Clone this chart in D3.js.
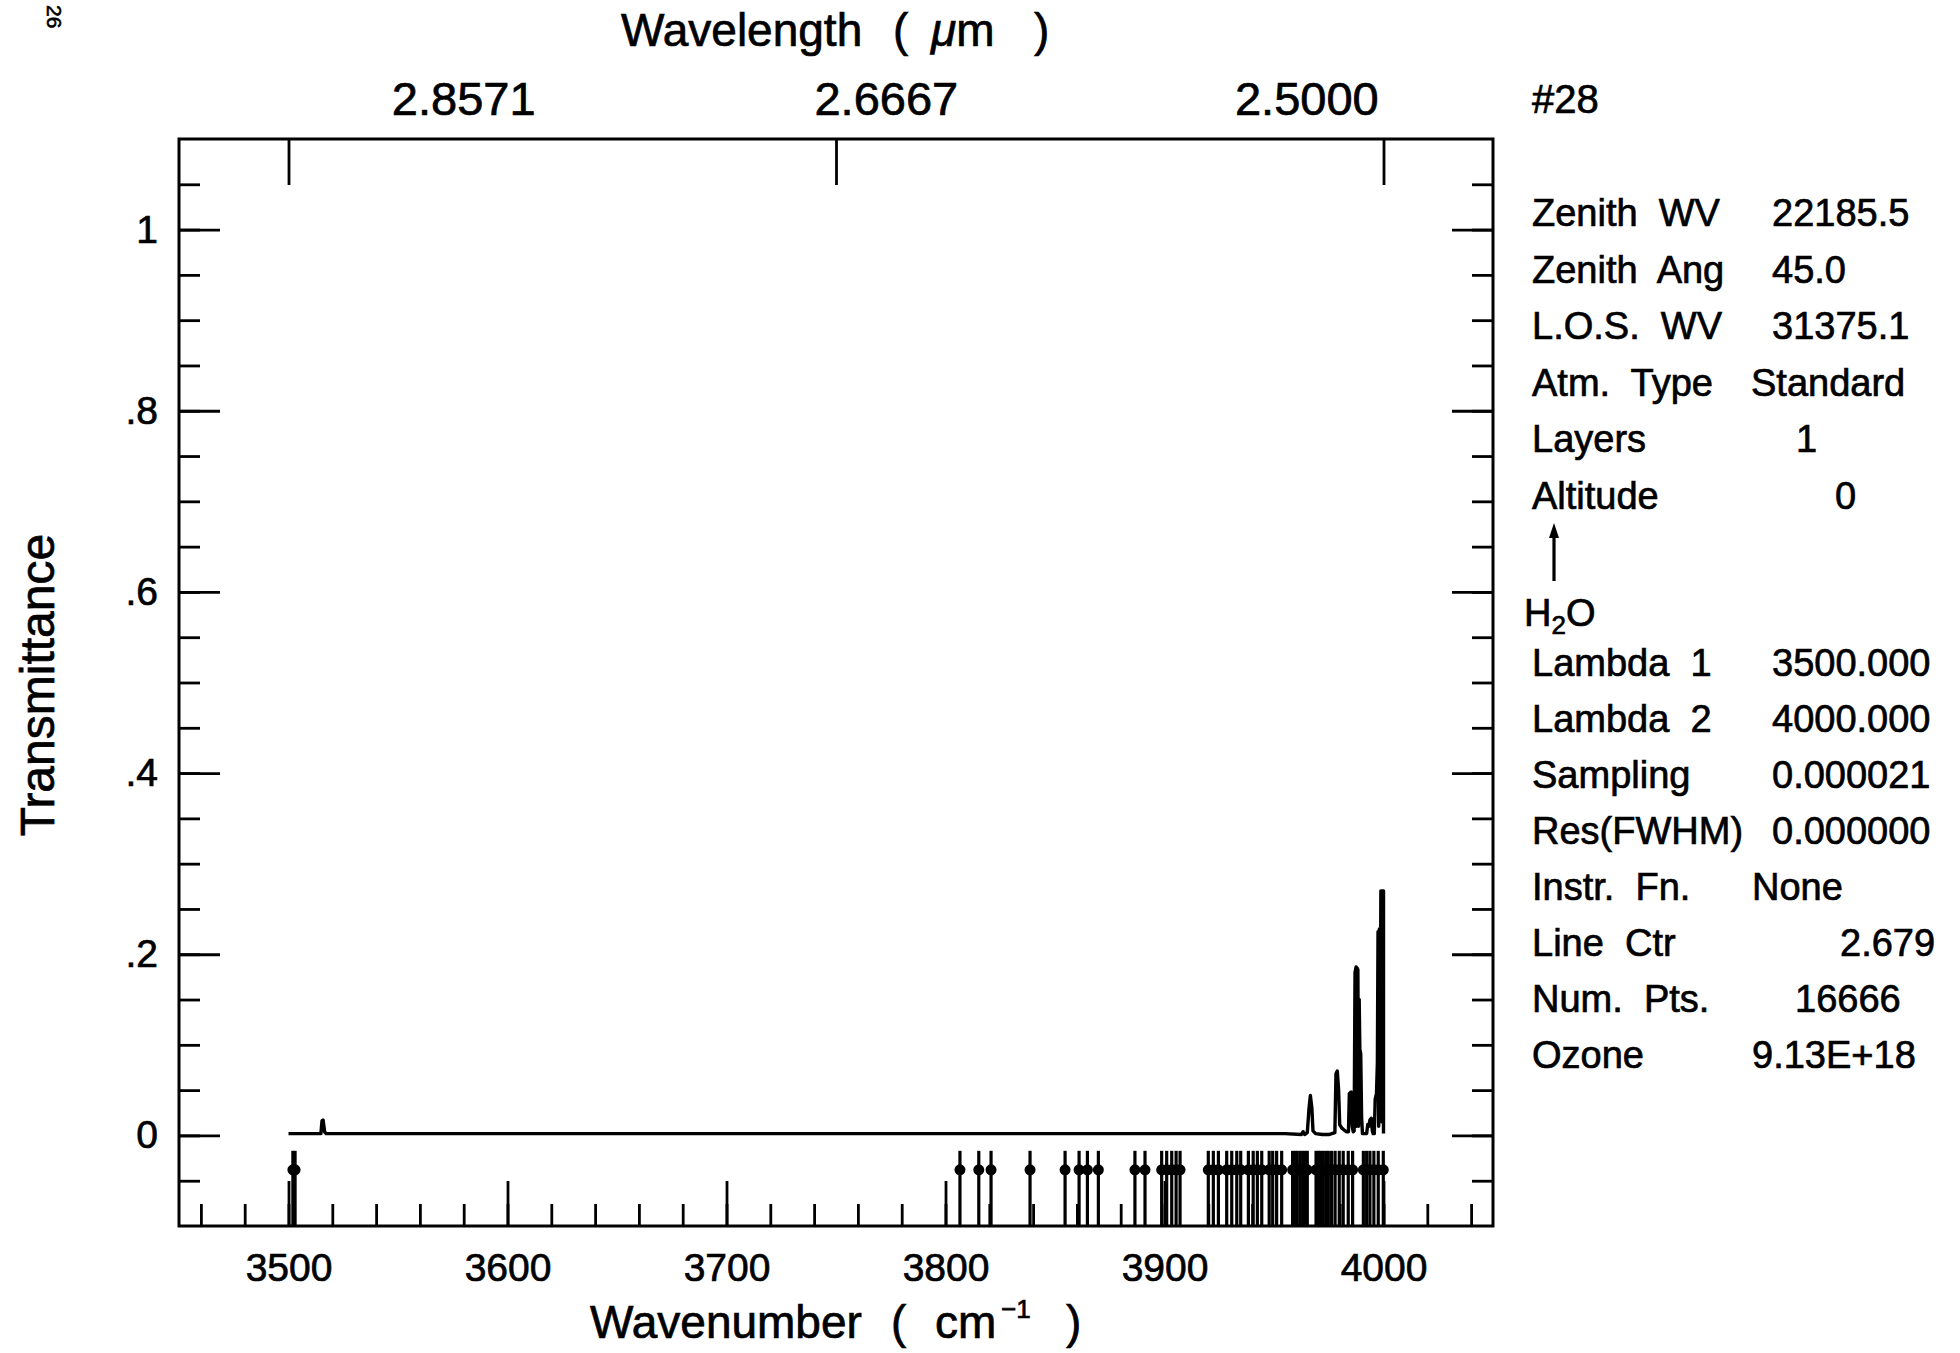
<!DOCTYPE html>
<html><head><meta charset="utf-8">
<script src="https://cdn.jsdelivr.net/npm/d3@7"></script>
<style>
html,body{margin:0;padding:0;background:#fff;}
svg{display:block;background:#fff;}
text{font-family:"Liberation Sans",Arial,sans-serif;fill:#000;}
</style></head><body>
<svg id="chart" width="1960" height="1353"></svg>
<script>
// ---------- data ----------
const wavenumber = [
  3500, 3514.8, 3515.3, 3515.8, 3516.5, 3517.2, 3600, 3700, 3800, 3900, 3955,
  3962.5, 3963.3, 3964.0, 3965.2, 3966.0, 3966.6, 3967.3, 3967.8, 3969, 3972, 3975,
  3977.8, 3978.3, 3978.9, 3979.5, 3980.0, 3981.0, 3982.0, 3983.0,
  3984.0, 3984.4, 3985.2, 3985.7, 3986.2,
  3986.6, 3987.0, 3987.5, 3987.7, 3987.9, 3988.3, 3988.6, 3988.9, 3989.2, 3989.6, 3990.0, 3990.4,
  3991.5, 3992.3, 3992.8, 3993.3, 3993.8, 3994.4, 3994.9, 3995.3, 3995.8,
  3996.2, 3996.8, 3997.2, 3997.5, 3997.8, 3998.1, 3998.4, 3998.8, 3999.1, 3999.4, 3999.7, 4000, 4000
];
const transmittance = [
  0.002, 0.002, 0.016, 0.017, 0.004, 0.002, 0.002, 0.002, 0.002, 0.002, 0.002,
  0.001, 0.004, 0.001, 0.003, 0.030, 0.044, 0.030, 0.005, 0.002, 0.001, 0.001,
  0.003, 0.068, 0.071, 0.050, 0.012, 0.008, 0.006, 0.004,
  0.004, 0.046, 0.048, 0.010, 0.004,
  0.005, 0.180, 0.186, 0.010, 0.185, 0.183, 0.010, 0.150, 0.095, 0.090, 0.020, 0.002,
  0.002, 0.002, 0.012, 0.010, 0.017, 0.019, 0.005, 0.002, 0.002,
  0.040, 0.046, 0.080, 0.225, 0.010, 0.228, 0.020, 0.270, 0.015, 0.270, 0.020, 0.270, 0.002
];
// H2O line positions marked under the spectrum (cm^-1)
const h2oLines = [
  3502.0, 3503.0, 3806.6, 3815.2, 3820.8, 3838.6, 3854.6, 3861.0, 3864.8, 3869.8,
  3886.5, 3891.1, 3898.7, 3901.0, 3903.3, 3905.3, 3907.1,
  3920.0, 3922.3, 3924.6, 3928.4, 3930.7, 3933.0, 3934.8,
  3938.3, 3940.5, 3942.4, 3944.4, 3947.8, 3949.4, 3951.2, 3953.5,
  3958.5, 3959.6, 3960.6, 3961.9, 3963.1, 3964.2, 3965.2,
  3969.2, 3970.2, 3971.3, 3972.5, 3973.7, 3974.8, 3976.3, 3977.9,
  3979.8, 3981.6, 3983.9, 3985.9,
  3990.8, 3992.3, 3993.8, 3995.6, 3997.6, 3999.9
];
const xMajorTicks = [3500, 3600, 3700, 3800, 3900, 4000];
const xMajorLabels = ["3500", "3600", "3700", "3800", "3900", "4000"];
const yMajorTicks = [0, 0.2, 0.4, 0.6, 0.8, 1.0];
const yMajorLabels = ["0", ".2", ".4", ".6", ".8", "1"];
const wavelengthTicks = [3500, 3750, 4000];
const wavelengthLabels = ["2.8571", "2.6667", "2.5000"];
const infoLabels = ["Zenith  WV", "Zenith  Ang", "L.O.S.  WV", "Atm.  Type", "Layers", "Altitude"];
const infoValues = ["22185.5", "45.0", "31375.1", "Standard", "1", "0"];
const runLabels = ["Lambda  1", "Lambda  2", "Sampling", "Res(FWHM)", "Instr.  Fn.", "Line  Ctr", "Num.  Pts.", "Ozone"];
const runValues = ["3500.000", "4000.000", "0.000021", "0.000000", "None", "2.679", "16666", "9.13E+18"];

// ---------- layout ----------
const FONT = '"Liberation Sans", Arial, sans-serif';
const TXT_STROKE = 0.7;
const wavelengthLabelAt = [3580, 3773, 3965];        // label anchors (cm^-1)
const infoValueX = [1772, 1772, 1772, 1751, 1796, 1835];
const runValueX = [1772, 1772, 1772, 1772, 1752, 1840, 1795, 1752];

const svg = d3.select("#chart");
const x = d3.scaleLinear().domain([3450, 4050]).range([179, 1493]);
const y = d3.scaleLinear().domain([-0.1, 1.1]).range([1226, 139]);

function styleAxis(g, size) {
  g.select(".domain").remove();
  g.selectAll(".tick line").attr("stroke", "#000").attr("stroke-width", 2.8);
  g.attr("font-family", FONT).attr("font-size", size);
  g.selectAll(".tick text").attr("fill", "#000").attr("stroke", "#000").attr("stroke-width", TXT_STROKE);
}

const xMinor = d3.range(3460, 4041, 20);
const yMinor = d3.range(-1, 22).map(i => i * 0.05);

// bottom axis
svg.append("g").attr("transform", `translate(0,${y(-0.1)})`)
  .call(d3.axisBottom(x).tickValues(xMinor).tickSize(-22).tickFormat(""))
  .call(g => styleAxis(g, 39));
svg.append("g").attr("transform", `translate(0,${y(-0.1)})`)
  .call(d3.axisBottom(x).tickValues(xMajorTicks).tickSize(-45).tickPadding(27)
    .tickFormat((d, i) => xMajorLabels[i]))
  .call(g => styleAxis(g, 39));

// left axis
svg.append("g").attr("transform", `translate(${x(3450)},0)`)
  .call(d3.axisLeft(y).tickValues(yMinor).tickSize(-21).tickFormat(""))
  .call(g => styleAxis(g, 39));
svg.append("g").attr("transform", `translate(${x(3450)},0)`)
  .call(d3.axisLeft(y).tickValues(yMajorTicks).tickSize(-41).tickPadding(21)
    .tickFormat((d, i) => yMajorLabels[i]))
  .call(g => styleAxis(g, 39));

// right axis
svg.append("g").attr("transform", `translate(${x(4050)},0)`)
  .call(d3.axisRight(y).tickValues(yMinor).tickSize(-21).tickFormat(""))
  .call(g => styleAxis(g, 39));
svg.append("g").attr("transform", `translate(${x(4050)},0)`)
  .call(d3.axisRight(y).tickValues(yMajorTicks).tickSize(-41).tickFormat(""))
  .call(g => styleAxis(g, 39));

// top (wavelength) axis
svg.append("g").attr("transform", `translate(0,${y(1.1)})`)
  .call(d3.axisTop(x).tickValues(wavelengthTicks).tickSize(-46).tickFormat(""))
  .call(g => styleAxis(g, 47));
svg.append("g").selectAll("text").data(wavelengthLabels).join("text")
  .attr("x", (d, i) => x(wavelengthLabelAt[i])).attr("y", 115)
  .attr("text-anchor", "middle").attr("font-size", 47)
  .attr("stroke", "#000").attr("stroke-width", TXT_STROKE)
  .text(d => d);

// frame
svg.append("rect")
  .attr("x", x(3450)).attr("y", y(1.1))
  .attr("width", x(4050) - x(3450)).attr("height", y(-0.1) - y(1.1))
  .attr("fill", "none").attr("stroke", "#000").attr("stroke-width", 3);

// spectrum
const pts = d3.zip(wavenumber, transmittance);
svg.append("path").datum(pts)
  .attr("d", d3.line().x(d => x(d[0])).y(d => y(d[1])))
  .attr("fill", "none").attr("stroke", "#000").attr("stroke-width", 3.4)
  .attr("stroke-linejoin", "round");

// H2O line markers
const mk = svg.append("g");
mk.selectAll("line").data(h2oLines).join("line")
  .attr("x1", d => x(d)).attr("x2", d => x(d))
  .attr("y1", y(-0.1)).attr("y2", y(-0.017))
  .attr("stroke", "#000").attr("stroke-width", 3.2);
mk.selectAll("circle").data(h2oLines).join("circle")
  .attr("cx", d => x(d)).attr("cy", y(-0.038)).attr("r", 5.5).attr("fill", "#000");

// axis titles
const tb = svg.append("text").attr("y", 1338).attr("font-size", 46)
  .attr("stroke", "#000").attr("stroke-width", TXT_STROKE);
tb.append("tspan").attr("x", 590).text("Wavenumber");
tb.append("tspan").attr("x", 891).text("(");
tb.append("tspan").attr("x", 935).text("cm");
tb.append("tspan").attr("x", 1001).attr("dy", -20).attr("font-size", 26).text("\u22121");
tb.append("tspan").attr("x", 1066).attr("dy", 20).text(")");

const tt = svg.append("text").attr("y", 46).attr("font-size", 46)
  .attr("stroke", "#000").attr("stroke-width", TXT_STROKE);
tt.append("tspan").attr("x", 621).text("Wavelength");
tt.append("tspan").attr("x", 893).text("(");
tt.append("tspan").attr("x", 931).attr("font-style", "italic").text("\u03bc");
tt.append("tspan").text("m");
tt.append("tspan").attr("x", 1034).text(")");

svg.append("text")
  .attr("transform", "translate(54,685) rotate(-90)")
  .attr("text-anchor", "middle").attr("font-size", 48)
  .attr("stroke", "#000").attr("stroke-width", TXT_STROKE)
  .text("Transmittance");

svg.append("text")
  .attr("transform", "translate(47,5) rotate(90)")
  .attr("font-size", 21).attr("stroke", "#000").attr("stroke-width", 0.6)
  .text("26");

// info panel
const panel = svg.append("g").attr("font-size", 38)
  .attr("stroke", "#000").attr("stroke-width", TXT_STROKE)
  .style("white-space", "pre");
panel.append("text").attr("x", 1532).attr("y", 113).attr("font-size", 40).text("#28");
infoLabels.forEach((t, i) => {
  panel.append("text").attr("x", 1532).attr("y", 226 + i * 56.5).attr("xml:space", "preserve").text(t);
  panel.append("text").attr("x", infoValueX[i]).attr("y", 226 + i * 56.5).text(infoValues[i]);
});
runLabels.forEach((t, i) => {
  panel.append("text").attr("x", 1532).attr("y", 676 + i * 56).attr("xml:space", "preserve").text(t);
  panel.append("text").attr("x", runValueX[i]).attr("y", 676 + i * 56).text(runValues[i]);
});
// species arrow + label
svg.append("line").attr("x1", 1554).attr("x2", 1554).attr("y1", 532).attr("y2", 581)
  .attr("stroke", "#000").attr("stroke-width", 3.2);
svg.append("path").attr("d", "M1554,523 L1549,538 L1559,538 Z").attr("fill", "#000");
const h2o = panel.append("text").attr("x", 1524).attr("y", 626);
h2o.append("tspan").text("H");
h2o.append("tspan").attr("dy", 8).attr("font-size", 26).text("2");
h2o.append("tspan").attr("dy", -8).text("O");
</script>
</body></html>
